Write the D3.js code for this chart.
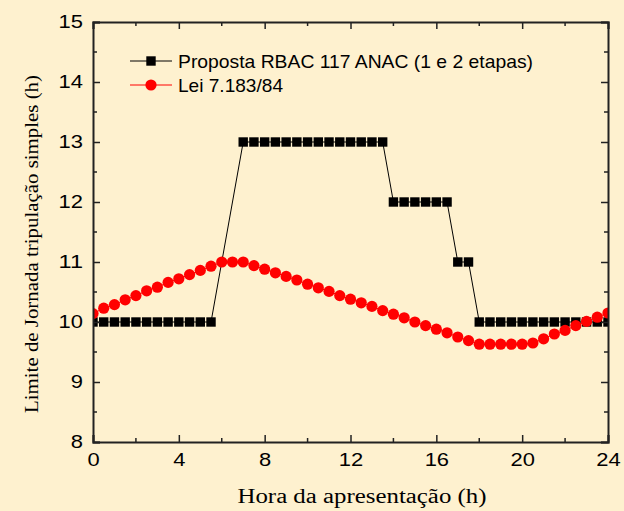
<!DOCTYPE html>
<html>
<head>
<meta charset="utf-8">
<script src="https://cdn.jsdelivr.net/npm/d3@7"></script>
<style>
  body { margin: 0; background: #fef1cf; }
  svg { display: block; }
</style>
</head>
<body>
<svg id="chart" width="624" height="511"></svg>
<script>
// hours of presentation, every half hour
var hours = d3.range(0, 24.01, 0.5);

// Proposta RBAC 117 ANAC: hours and limits
var rbacHours = [0,0.5,1,1.5,2,2.5,3,3.5,4,4.5,5,5.5,
    7,7.5,8,8.5,9,9.5,10,10.5,11,11.5,12,12.5,13,13.5,
    14,14.5,15,15.5,16,16.5,
    17,17.5,
    18,18.5,19,19.5,20,20.5,21,21.5,22,22.5,23,23.5,24];
var rbacLimits = [10,10,10,10,10,10,10,10,10,10,10,10,
    13,13,13,13,13,13,13,13,13,13,13,13,13,13,
    12,12,12,12,12,12,
    11,11,
    10,10,10,10,10,10,10,10,10,10,10,10,10];

// Lei 7.183/84
var leiLimits = [10.14,10.23,10.29,10.37,10.44,10.52,10.58,10.66,10.72,10.79,10.86,10.93,
    11.0,11.0,11.0,10.94,10.88,10.82,10.76,10.70,10.63,10.57,10.51,10.44,10.38,10.32,
    10.26,10.19,10.13,10.07,10.0,9.94,9.88,9.82,9.75,9.69,9.63,9.63,9.63,9.63,9.63,
    9.65,9.72,9.80,9.86,9.94,10.01,10.08,10.15];

var xTicks = [0,4,8,12,16,20,24];
var yTicks = [8,9,10,11,12,13,14,15];

var svg = d3.select('#chart');
var margin = {top: 22, left: 93, right: 16, bottom: 69};
var width = 624 - margin.left - margin.right;
var height = 511 - margin.top - margin.bottom;

var x = d3.scaleLinear().domain([0, 24]).range([0, width]);
var y = d3.scaleLinear().domain([8, 15]).range([height, 0]);

var g = svg.append('g')
    .attr('transform', 'translate(' + margin.left + ',' + margin.top + ')');

g.append('clipPath').attr('id', 'clip')
    .append('rect').attr('width', width).attr('height', height);

var plot = g.append('g').attr('clip-path', 'url(#clip)');

// black series
var rbac = rbacHours.map(function(h, i) { return [h, rbacLimits[i]]; });
plot.append('path')
    .datum(rbac)
    .attr('fill', 'none')
    .attr('stroke', '#000')
    .attr('stroke-width', 1)
    .attr('d', d3.line().x(function(d) { return x(d[0]); }).y(function(d) { return y(d[1]); }));
plot.selectAll('.sq')
    .data(rbac)
    .enter().append('rect')
    .attr('class', 'sq')
    .attr('x', function(d) { return x(d[0]) - 4.7; })
    .attr('y', function(d) { return y(d[1]) - 4.7; })
    .attr('width', 9.4)
    .attr('height', 9.4)
    .attr('fill', '#000');

// red series
var lei = hours.map(function(h, i) { return [h, leiLimits[i]]; });
plot.append('path')
    .datum(lei)
    .attr('fill', 'none')
    .attr('stroke', '#ff0000')
    .attr('stroke-width', 1)
    .attr('d', d3.line().x(function(d) { return x(d[0]); }).y(function(d) { return y(d[1]); }));
plot.selectAll('.dot')
    .data(lei)
    .enter().append('circle')
    .attr('class', 'dot')
    .attr('cx', function(d) { return x(d[0]); })
    .attr('cy', function(d) { return y(d[1]); })
    .attr('r', 5.6)
    .attr('fill', '#ff0000');

// axes
var font = '"Liberation Sans", Arial, sans-serif';
var serif = '"Liberation Serif", "Times New Roman", serif';
var xAxis = g.append('g').attr('transform', 'translate(0,' + height + ')')
    .call(d3.axisBottom(x).tickValues(xTicks).tickSize(-7).tickPadding(11).tickFormat(d3.format('d')));
var yAxis = g.append('g')
    .call(d3.axisLeft(y).tickValues(yTicks).tickSize(-7).tickPadding(10).tickFormat(d3.format('d')));
var xTop = g.append('g')
    .call(d3.axisTop(x).tickValues(xTicks).tickSize(-7).tickFormat(''));
var yRight = g.append('g').attr('transform', 'translate(' + width + ',0)')
    .call(d3.axisRight(y).tickValues(yTicks).tickSize(-7).tickFormat(''));

// minor ticks
var xMinor = d3.range(2, 24, 4);
var yMinor = d3.range(8.5, 15, 1);
xAxis.call(function(a) {
    a.selectAll('.minor').data(xMinor).enter().append('line')
        .attr('x1', function(d) { return x(d); }).attr('x2', function(d) { return x(d); })
        .attr('y1', 0).attr('y2', -4);
});
xTop.call(function(a) {
    a.selectAll('.minor').data(xMinor).enter().append('line')
        .attr('x1', function(d) { return x(d); }).attr('x2', function(d) { return x(d); })
        .attr('y1', 0).attr('y2', 4);
});
yAxis.call(function(a) {
    a.selectAll('.minor').data(yMinor).enter().append('line')
        .attr('y1', function(d) { return y(d); }).attr('y2', function(d) { return y(d); })
        .attr('x1', 0).attr('x2', 4);
});
yRight.call(function(a) {
    a.selectAll('.minor').data(yMinor).enter().append('line')
        .attr('y1', function(d) { return y(d); }).attr('y2', function(d) { return y(d); })
        .attr('x1', 0).attr('x2', -4);
});

[xAxis, yAxis, xTop, yRight].forEach(function(a) {
    a.select('.domain').attr('stroke', '#222').attr('stroke-width', 2);
    a.selectAll('line').attr('stroke', '#222').attr('stroke-width', 1.5);
    a.selectAll('text')
        .attr('fill', '#000')
        .attr('textLength', function(d) { return String(d).length * 12.2; })
        .attr('lengthAdjust', 'spacingAndGlyphs')
        .style('font-family', font)
        .style('font-size', '18.6px');
});

// axis titles
svg.append('text')
    .attr('x', 362)
    .attr('y', 503)
    .attr('text-anchor', 'middle')
    .attr('textLength', 249)
    .attr('lengthAdjust', 'spacingAndGlyphs')
    .style('font-family', serif)
    .style('font-size', '20px')
    .text('Hora da apresentação (h)');

svg.append('text')
    .attr('transform', 'translate(38,244) rotate(-90)')
    .attr('text-anchor', 'middle')
    .attr('textLength', 338)
    .attr('lengthAdjust', 'spacingAndGlyphs')
    .style('font-family', serif)
    .style('font-size', '19.5px')
    .text('Limite de Jornada tripulação simples (h)');

// legend
var legend = svg.append('g');
var items = [
    {name: 'Proposta RBAC 117 ANAC (1 e 2 etapas)', color: '#000', shape: 'square', len: 355},
    {name: 'Lei 7.183/84', color: '#ff0000', shape: 'circle', len: 105}
];
items.forEach(function(it, i) {
    var ly = 61 + i * 24;
    legend.append('line')
        .attr('x1', 130).attr('x2', 172).attr('y1', ly).attr('y2', ly)
        .attr('stroke', it.color).attr('stroke-width', 1);
    if (it.shape === 'square') {
        legend.append('rect').attr('x', 151 - 4.7).attr('y', ly - 4.7)
            .attr('width', 9.4).attr('height', 9.4).attr('fill', it.color);
    } else {
        legend.append('circle').attr('cx', 151).attr('cy', ly).attr('r', 5.6).attr('fill', it.color);
    }
    legend.append('text')
        .attr('x', 178).attr('y', ly + 6.7)
        .attr('textLength', it.len)
        .attr('lengthAdjust', 'spacingAndGlyphs')
        .style('font-family', font).style('font-size', '18.6px')
        .text(it.name);
});
</script>
</body>
</html>
